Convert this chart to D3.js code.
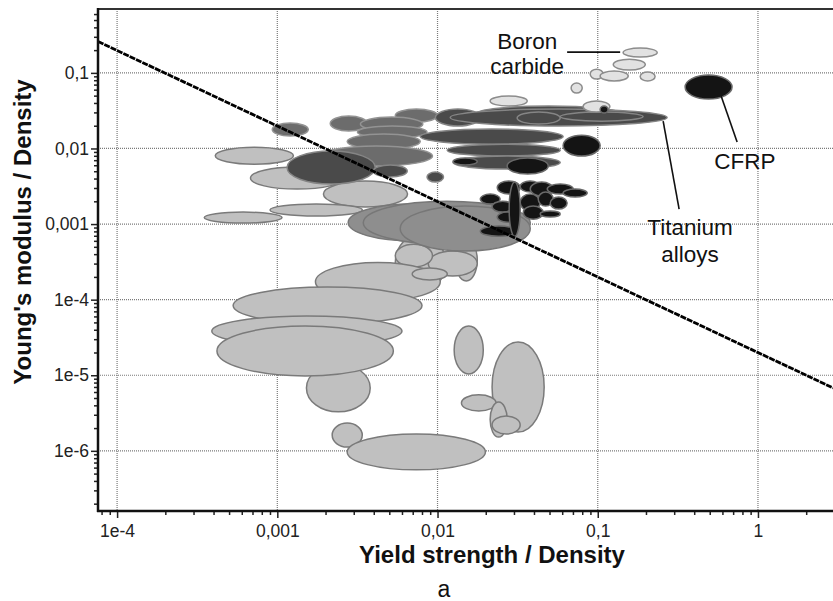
<!DOCTYPE html>
<html>
<head>
<meta charset="utf-8">
<script src="https://cdn.jsdelivr.net/npm/d3@7"></script>
<style>
  body { margin: 0; background: #fff; }
  svg { font-family: "Liberation Sans", Arial, sans-serif; }
</style>
</head>
<body>
<div id="chart"></div>
<script>
// axis extents and tick labels
var xExtent = [7.6e-5, 2.94];
var yExtent = [1.6e-7, 0.70];
var xMajor = [1e-4, 1e-3, 1e-2, 0.1, 1];
var xMajorLabels = ["1e-4", "0,001", "0,01", "0,1", "1"];
var yMajor = [0.1, 0.01, 0.001, 1e-4, 1e-5, 1e-6];
var yMajorLabels = ["0,1", "0,01", "0,001", "1e-4", "1e-5", "1e-6"];

// material bubbles: [yield/density min, max, modulus/density min, max]
var lightRanges = [
  [4.1e-4, 1.26e-3, 0.0062, 0.0104],
  [6.8e-4, 2.6e-3, 0.0029, 0.0057],
  [1.94e-3, 6.5e-3, 0.00168, 0.0037],
  [9.0e-4, 3.4e-3, 0.00128, 0.00184],
  [3.5e-4, 1.07e-3, 0.00103, 0.00144],
  [5.45e-3, 0.0112, 1.26e-4, 7.4e-4],
  [0.0129, 0.0177, 1.77e-4, 6.3e-4],
  [8.75e-3, 0.0177, 2.05e-4, 4.4e-4],
  [5.45e-3, 9.3e-3, 2.7e-4, 5.4e-4],
  [1.73e-3, 0.0104, 9.6e-5, 3.1e-4],
  [6.95e-3, 0.0115, 1.82e-4, 2.62e-4],
  [1.52e-3, 3.8e-3, 3.28e-6, 1.41e-5],
  [5.3e-4, 8.0e-3, 4.75e-5, 1.47e-4],
  [3.9e-4, 6.0e-3, 2.43e-5, 6.07e-5],
  [4.2e-4, 5.3e-3, 9.8e-6, 4.48e-5],
  [2.2e-3, 3.39e-3, 1.12e-6, 2.33e-6],
  [2.73e-3, 0.0199, 5.6e-7, 1.67e-6],
  [0.0127, 0.0193, 1.04e-5, 4.48e-5],
  [0.0219, 0.0463, 1.77e-6, 2.75e-5],
  [0.0141, 0.0232, 3.36e-6, 5.5e-6],
  [0.0213, 0.0272, 1.52e-6, 4.42e-6],
  [0.0219, 0.0328, 1.67e-6, 2.88e-6]
];
var mediumRanges = [
  [2.77e-3, 0.0177, 5.96e-4, 1.84e-3],
  [3.44e-3, 0.0379, 5.4e-4, 2.01e-3],
  [5.85e-3, 0.0379, 4.4e-4, 1.73e-3]
];
var greyRanges = [
  [9.3e-4, 1.56e-3, 0.0146, 0.0217],
  [2.14e-3, 3.64e-3, 0.017, 0.0268],
  [5.45e-3, 0.0100, 0.0223, 0.0332],
  [3.3e-3, 8.1e-3, 0.017, 0.026],
  [3.16e-3, 8.6e-3, 0.0137, 0.0198],
  [2.73e-3, 7.8e-3, 0.0098, 0.0155],
  [1.85e-3, 9.3e-3, 0.00585, 0.0108]
];
var darkRanges = [
  [1.15e-3, 4.09e-3, 0.00338, 0.00925],
  [3.97e-3, 6.47e-3, 0.00419, 0.00603],
  [8.6e-3, 0.0109, 0.0036, 0.00487],
  [9.7e-3, 0.0185, 0.0198, 0.0332],
  [0.0177, 0.138, 0.0236, 0.0364],
  [0.012, 0.271, 0.0198, 0.0332],
  [7.8e-3, 0.0608, 0.0114, 0.0181],
  [0.0115, 0.0583, 0.00793, 0.0114],
  [0.0125, 0.0583, 0.00534, 0.00793],
  [0.0314, 0.0583, 0.021, 0.0303],
  [0.0583, 0.192, 0.023, 0.0303]
];
var paleRanges = [
  [0.144, 0.235, 0.162, 0.213],
  [0.125, 0.198, 0.109, 0.152],
  [0.0897, 0.108, 0.0828, 0.112],
  [0.1035, 0.155, 0.078, 0.106],
  [0.184, 0.228, 0.078, 0.1025],
  [0.0682, 0.080, 0.054, 0.0733],
  [0.0213, 0.0363, 0.0364, 0.0493],
  [0.081, 0.119, 0.0303, 0.0424]
];
var blackRanges = [
  [0.0608, 0.1035, 0.00793, 0.015],
  [0.0272, 0.0491, 0.00459, 0.00747],
  [0.0125, 0.0177, 0.00603, 0.00747],
  [0.1035, 0.116, 0.0294, 0.0364],
  [0.351, 0.689, 0.045, 0.0935],
  [0.0236, 0.0328, 0.00249, 0.00371],
  [0.0328, 0.0437, 0.00265, 0.00371],
  [0.0379, 0.0527, 0.00235, 0.0036],
  [0.0484, 0.0703, 0.00249, 0.00338],
  [0.0608, 0.0859, 0.00228, 0.0029],
  [0.0185, 0.0246, 0.00184, 0.00249],
  [0.0219, 0.0297, 0.00144, 0.00201],
  [0.0328, 0.0437, 0.00149, 0.00249],
  [0.0425, 0.0527, 0.00173, 0.00265],
  [0.0505, 0.0644, 0.00158, 0.00228],
  [0.0343, 0.0456, 0.00116, 0.00173],
  [0.0236, 0.0314, 0.00106, 0.00144],
  [0.0437, 0.0583, 0.00124, 0.00149],
  [0.0185, 0.0314, 6.9e-4, 9.4e-4],
  [0.028, 0.0328, 6.9e-4, 0.0036]
];

// performance index line and labels
var guidePoints = [[7.6e-5, 0.26], [2.94, 6.8e-6]];
var labels = [
  {text: "Boron", x: 0.0363, y: 0.262},
  {text: "carbide", x: 0.0363, y: 0.123},
  {text: "CFRP", x: 0.83, y: 0.0068},
  {text: "Titanium", x: 0.377, y: 9.1e-4},
  {text: "alloys", x: 0.377, y: 4.0e-4}
];
var leaders = [
  [[0.0644, 0.188], [0.138, 0.188]],
  [[0.256, 0.023], [0.322, 0.00158]],
  [[0.589, 0.0493], [0.741, 0.0122]]
];

var width = 833, height = 601;
var plotLeft = 98, plotTop = 9, plotRight = 833, plotBottom = 511;

var svg = d3.select("#chart").append("svg")
    .attr("width", width)
    .attr("height", height);

var x = d3.scaleLog().domain(xExtent).range([plotLeft, plotRight]);
var y = d3.scaleLog().domain(yExtent).range([plotBottom, plotTop]);

svg.append("clipPath").attr("id", "plotClip")
    .append("rect")
    .attr("x", plotLeft).attr("y", plotTop)
    .attr("width", plotRight - plotLeft).attr("height", plotBottom - plotTop);

//dotted grid
var grid = svg.append("g").attr("stroke", "#7a7a7a").attr("stroke-width", 1.2)
    .attr("stroke-dasharray", "1,1");
grid.selectAll(".vg").data(xMajor).enter().append("line")
    .attr("x1", d => x(d)).attr("x2", d => x(d))
    .attr("y1", plotTop).attr("y2", plotBottom);
grid.selectAll(".hg").data(yMajor).enter().append("line")
    .attr("x1", plotLeft).attr("x2", plotRight)
    .attr("y1", d => y(d)).attr("y2", d => y(d));

var plot = svg.append("g").attr("clip-path", "url(#plotClip)");

function drawBubbles(data, fill, stroke) {
  plot.append("g").selectAll("ellipse").data(data).enter().append("ellipse")
      .attr("cx", d => (x(d[0]) + x(d[1])) / 2)
      .attr("cy", d => (y(d[2]) + y(d[3])) / 2)
      .attr("rx", d => (x(d[1]) - x(d[0])) / 2)
      .attr("ry", d => (y(d[2]) - y(d[3])) / 2)
      .attr("fill", fill)
      .attr("stroke", stroke)
      .attr("stroke-width", 1.5);
}

drawBubbles(lightRanges, "#c0c0c0", "#7a7a7a");
drawBubbles(mediumRanges, "#8e8e8e", "#777");
drawBubbles(greyRanges, "#6c6c6c", "#939393");
drawBubbles(darkRanges, "#4a4a4a", "#858585");
drawBubbles(paleRanges, "#e2e2e2", "#8c8c8c");
drawBubbles(blackRanges, "#141414", "#6a6a6a");

//dashed guide line
plot.append("line")
    .attr("x1", x(guidePoints[0][0])).attr("y1", y(guidePoints[0][1]))
    .attr("x2", x(guidePoints[1][0])).attr("y2", y(guidePoints[1][1]))
    .attr("stroke", "#000")
    .attr("stroke-width", 2.8)
    .attr("stroke-dasharray", "6,1");

//leader lines and labels
svg.append("g").selectAll("line").data(leaders).enter().append("line")
    .attr("x1", d => x(d[0][0])).attr("y1", d => y(d[0][1]))
    .attr("x2", d => x(d[1][0])).attr("y2", d => y(d[1][1]))
    .attr("stroke", "#111").attr("stroke-width", 1.6);

svg.append("g").selectAll("text").data(labels).enter().append("text")
    .attr("x", d => x(d.x)).attr("y", d => y(d.y))
    .attr("text-anchor", "middle")
    .attr("dominant-baseline", "central")
    .style("font-size", "22.5px")
    .style("fill", "#111")
    .text(d => d.text);

//minor tick values
var xMinor = [], yMinor = [];
for (var e = -5; e <= 0; e++) {
  for (var m = 2; m <= 9; m++) {
    var v = m * Math.pow(10, e);
    if (v > xExtent[0] && v < xExtent[1]) xMinor.push(v);
  }
}
for (var e2 = -7; e2 <= -1; e2++) {
  for (var m2 = 2; m2 <= 9; m2++) {
    var v2 = m2 * Math.pow(10, e2);
    if (v2 > yExtent[0] && v2 < yExtent[1]) yMinor.push(v2);
  }
}

var xAxisG = svg.append("g").attr("transform", "translate(0," + plotBottom + ")");
xAxisG.append("g").call(d3.axisBottom(x).tickValues(xMinor).tickSize(4).tickFormat(""));
xAxisG.append("g").call(d3.axisBottom(x).tickValues(xMajor).tickSize(7).tickPadding(7)
    .tickFormat((d, i) => xMajorLabels[i]));

var yAxisG = svg.append("g").attr("transform", "translate(" + plotLeft + ",0)");
yAxisG.append("g").call(d3.axisLeft(y).tickValues(yMinor).tickSize(4).tickFormat(""));
yAxisG.append("g").call(d3.axisLeft(y).tickValues(yMajor).tickSize(7).tickPadding(2)
    .tickFormat((d, i) => yMajorLabels[i]));

svg.selectAll(".domain").remove();
svg.selectAll(".tick line").attr("stroke", "#222").attr("stroke-width", 1.5);
svg.selectAll(".tick text").style("font-size", "17.5px").style("fill", "#222")
    .style("font-family", "'Liberation Sans', Arial, sans-serif");

//frame
svg.append("line").attr("x1", plotLeft).attr("x2", plotRight).attr("y1", plotTop).attr("y2", plotTop)
    .attr("stroke", "#333").attr("stroke-width", 2);
svg.append("line").attr("x1", plotLeft).attr("x2", plotLeft).attr("y1", plotTop - 1).attr("y2", plotBottom + 1)
    .attr("stroke", "#111").attr("stroke-width", 2.5);
svg.append("line").attr("x1", plotLeft - 1).attr("x2", plotRight).attr("y1", plotBottom).attr("y2", plotBottom)
    .attr("stroke", "#111").attr("stroke-width", 2.5);

//axis titles
svg.append("text")
    .attr("x", 492).attr("y", 563)
    .attr("text-anchor", "middle")
    .style("font-size", "24px").style("font-weight", "bold").style("fill", "#111")
    .text("Yield strength / Density");

svg.append("text")
    .attr("transform", "translate(31,232) rotate(-90)")
    .attr("text-anchor", "middle")
    .style("font-size", "24px").style("font-weight", "bold").style("fill", "#111")
    .text("Young's modulus / Density");

svg.append("text")
    .attr("x", 444).attr("y", 597)
    .attr("text-anchor", "middle")
    .style("font-size", "23px").style("fill", "#111")
    .text("a");
</script>
</body>
</html>
